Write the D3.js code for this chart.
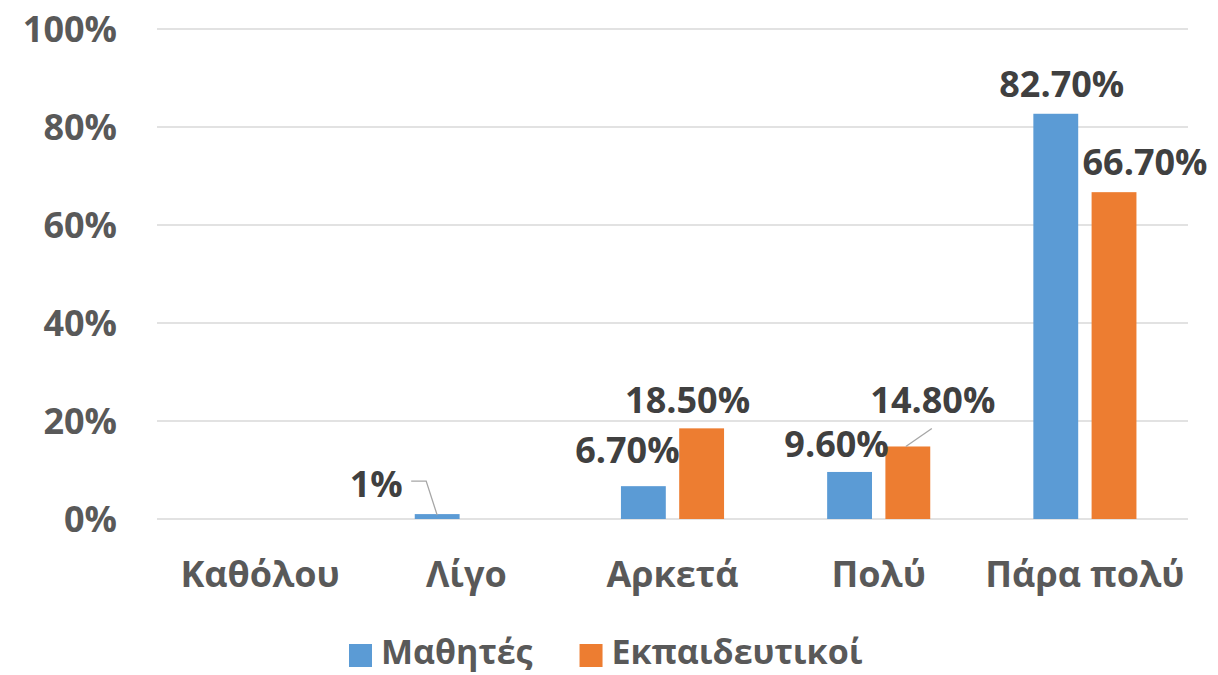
<!DOCTYPE html>
<html lang="el">
<head>
<meta charset="utf-8" />
<script src="https://cdnjs.cloudflare.com/ajax/libs/d3/7.8.5/d3.min.js"></script>
<style>
    body { margin: 0; background: #fff; }
    svg text { font-family: "Open Sans", "Noto Sans", sans-serif; font-weight: bold; }
    .axis-label { fill: #595959; font-size: 36px; }
    .legend-label { fill: #595959; font-size: 34px; }
    .data-label { fill: #404040; font-size: 36px; }
</style>
</head>
<body>
<svg id="chart" width="1218" height="675"></svg>
<script>
    // data
    const categories = ['Καθόλου', 'Λίγο', 'Αρκετά', 'Πολύ', 'Πάρα πολύ']
    const seriesNames = ['Μαθητές', 'Εκπαιδευτικοί']
    const students = [null, 1, 6.7, 9.6, 82.7]
    const teachers = [null, null, 18.5, 14.8, 66.7]
    const labelText = [
        [null, '1%', '6.70%', '9.60%', '82.70%'],
        [null, null, '18.50%', '14.80%', '66.70%']
    ]
    const yTicks = [0, 20, 40, 60, 80, 100]
    const colors = ['#5B9BD5', '#ED7D31']

    // label nudges (dx from bar centre, dy from bar top), like Excel's moved labels
    const nudges = [
        [null, [-61, -17], [-16, -23], [-13, -15], [6, -17]],
        [null, null, [-14, -15], [25, -33], [31, -17]]
    ]

    const svg = d3.select('#chart')
    const margin = { left: 157, right: 30, top: 29, bottom: 156 }
    const W = 1218, H = 675

    const x0 = d3.scaleBand()
        .domain(categories)
        .range([margin.left, W - margin.right])
        .paddingInner(0.5)
        .paddingOuter(0.25)
    const x1 = d3.scaleBand()
        .domain(seriesNames)
        .range([0, x0.bandwidth()])
        .paddingInner(0.23)
    const y = d3.scaleLinear()
        .domain([0, 100])
        .range([H - margin.bottom, margin.top])

    // gridlines
    svg.append('g')
        .selectAll('line')
        .data(yTicks)
        .join('line')
            .attr('x1', margin.left)
            .attr('x2', W - margin.right)
            .attr('y1', d => y(d))
            .attr('y2', d => y(d))
            .attr('stroke', '#d9d9d9')
            .attr('stroke-width', 1.5)

    // y axis labels
    svg.append('g')
        .selectAll('text')
        .data(yTicks)
        .join('text')
            .attr('class', 'axis-label')
            .attr('x', 117)
            .attr('y', d => y(d))
            .attr('dy', '0.36em')
            .attr('text-anchor', 'end')
            .text(d => d + '%')

    // category labels
    svg.append('g')
        .selectAll('text')
        .data(categories)
        .join('text')
            .attr('class', 'axis-label')
            .attr('x', d => x0(d) + x0.bandwidth() / 2)
            .attr('y', 587)
            .attr('text-anchor', 'middle')
            .text(d => d)

    const series = [students, teachers]
    const bars = []
    series.forEach(function(vals, s) {
        vals.forEach(function(v, i) {
            if (v === null) return
            bars.push({ s: s, i: i, cat: categories[i], value: v, label: labelText[s][i], nudge: nudges[s][i] })
        })
    })

    svg.append('g')
        .selectAll('rect')
        .data(bars)
        .join('rect')
            .attr('x', d => x0(d.cat) + x1(seriesNames[d.s]))
            .attr('width', x1.bandwidth())
            .attr('y', d => y(d.value))
            .attr('height', d => y(0) - y(d.value))
            .attr('fill', d => colors[d.s])

    function cx(d) { return x0(d.cat) + x1(seriesNames[d.s]) + x1.bandwidth() / 2 }

    svg.append('g')
        .selectAll('text')
        .data(bars)
        .join('text')
            .attr('class', 'data-label')
            .attr('x', d => cx(d) + d.nudge[0])
            .attr('y', d => y(d.value) + d.nudge[1])
            .attr('text-anchor', 'middle')
            .text(d => d.label)

    // leader lines for the moved labels
    const leaders = svg.append('g')
        .attr('fill', 'none')
        .attr('stroke', '#a6a6a6')
        .attr('stroke-width', 1.3)
    const small = bars.find(d => d.s === 0 && d.i === 1)
    leaders.append('path')
        .attr('d', d3.line()([
            [cx(small) - 26, y(small.value) - 33],
            [cx(small) - 11, y(small.value) - 33],
            [cx(small), y(small.value) + 1]
        ]))
    const polu = bars.find(d => d.s === 1 && d.i === 3)
    leaders.append('path')
        .attr('d', d3.line()([
            [cx(polu) + 24, y(polu.value) - 18],
            [cx(polu) - 2, y(polu.value)]
        ]))

    // legend
    const legend = svg.append('g')
    let lx = 349
    seriesNames.forEach(function(name, s) {
        legend.append('rect')
            .attr('x', lx)
            .attr('y', 644)
            .attr('width', 23)
            .attr('height', 23)
            .attr('fill', colors[s])
        const t = legend.append('text')
            .attr('class', 'legend-label')
            .attr('x', lx + 32)
            .attr('y', 664)
            .text(name)
        lx = lx + 32 + t.node().getComputedTextLength() + 47
    })
</script>
</body>
</html>
